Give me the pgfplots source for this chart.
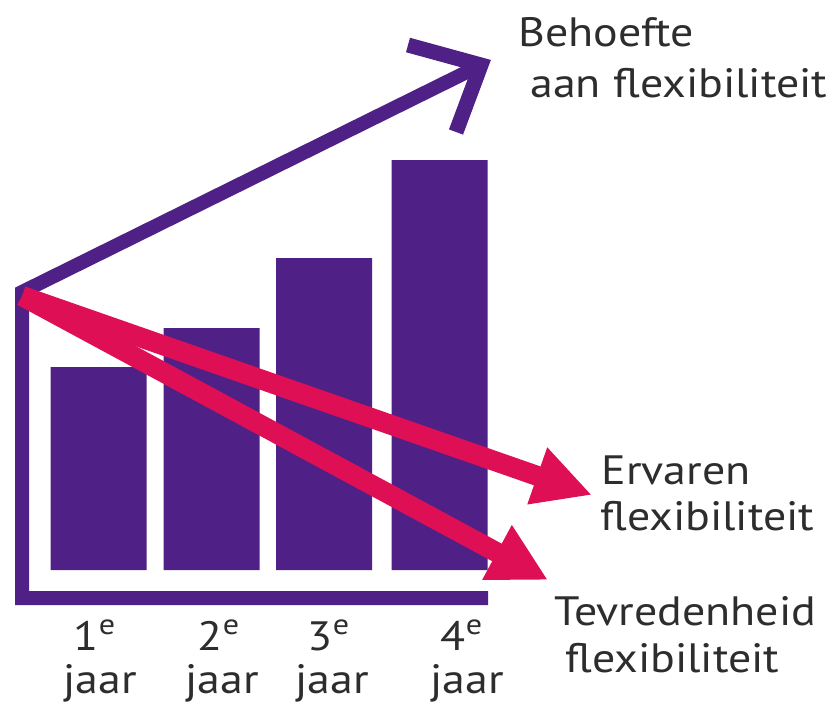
\documentclass[border=0pt]{standalone}
\usepackage{pgfplots}
\pgfplotsset{compat=1.18}
\usepackage{fontspec}
\setmainfont{PT Sans}[FakeStretch=1.12]
\usetikzlibrary{arrows.meta}
\definecolor{purp}{RGB}{79,33,134}
\definecolor{pink}{RGB}{222,15,85}
\definecolor{txt}{RGB}{45,45,45}
\tikzset{lbl/.style={text=txt, font=\fontsize{20.5pt}{25pt}\selectfont, inner sep=0pt}}
\begin{document}
\begin{tikzpicture}
\begin{axis}[name=ax,
  width=417.5pt, height=357pt, scale only axis,
  xmin=0, xmax=835, ymin=-144, ymax=570,
  hide axis, clip=false]
% bars (height above baseline, pixel units)
\addplot[ybar, bar width=96, fill=purp, draw=none] coordinates {(98.5,203) (211.5,242) (324,312) (439.5,410)};
% purple frame + rising line
\addplot[purp, line width=7pt, line join=miter, no marks] coordinates {(488,-28) (22,-28) (22,278) (481,505)};
\addplot[purp, line width=7.5pt, line join=miter, no marks] coordinates {(408,525) (481,505) (456,438)};
% pink arrows
\addplot[pink, line width=10pt, no marks, -{Triangle[length=29pt,width=28pt]}] coordinates {(22,274) (592,75)};
\addplot[pink, line width=10pt, no marks, -{Triangle[length=29pt,width=29pt]}] coordinates {(22,274) (548,-10)};
% labels
\node[lbl, anchor=base west] at (axis cs:518,523) {Behoefte};
\node[lbl, anchor=base west] at (axis cs:530,473) {aan flexibiliteit};
\node[lbl, anchor=base west] at (axis cs:601,86) {Ervaren};
\node[lbl, anchor=base west] at (axis cs:600,40) {flexibiliteit};
\node[lbl, anchor=base west] at (axis cs:554,-55) {Tevredenheid};
\node[lbl, anchor=base west] at (axis cs:565,-102) {flexibiliteit};
\node[lbl, anchor=base] at (axis cs:95,-80) {1\textsuperscript{e}};
\node[lbl, anchor=base] at (axis cs:219,-80) {2\textsuperscript{e}};
\node[lbl, anchor=base] at (axis cs:329,-80) {3\textsuperscript{e}};
\node[lbl, anchor=base] at (axis cs:462,-80) {4\textsuperscript{e}};
\node[lbl, anchor=base] at (axis cs:100,-123) {jaar};
\node[lbl, anchor=base] at (axis cs:222,-123) {jaar};
\node[lbl, anchor=base] at (axis cs:332,-123) {jaar};
\node[lbl, anchor=base] at (axis cs:467,-123) {jaar};
\end{axis}
\pgfresetboundingbox
\path (ax.south west) rectangle (ax.north east);
\end{tikzpicture}
\end{document}
